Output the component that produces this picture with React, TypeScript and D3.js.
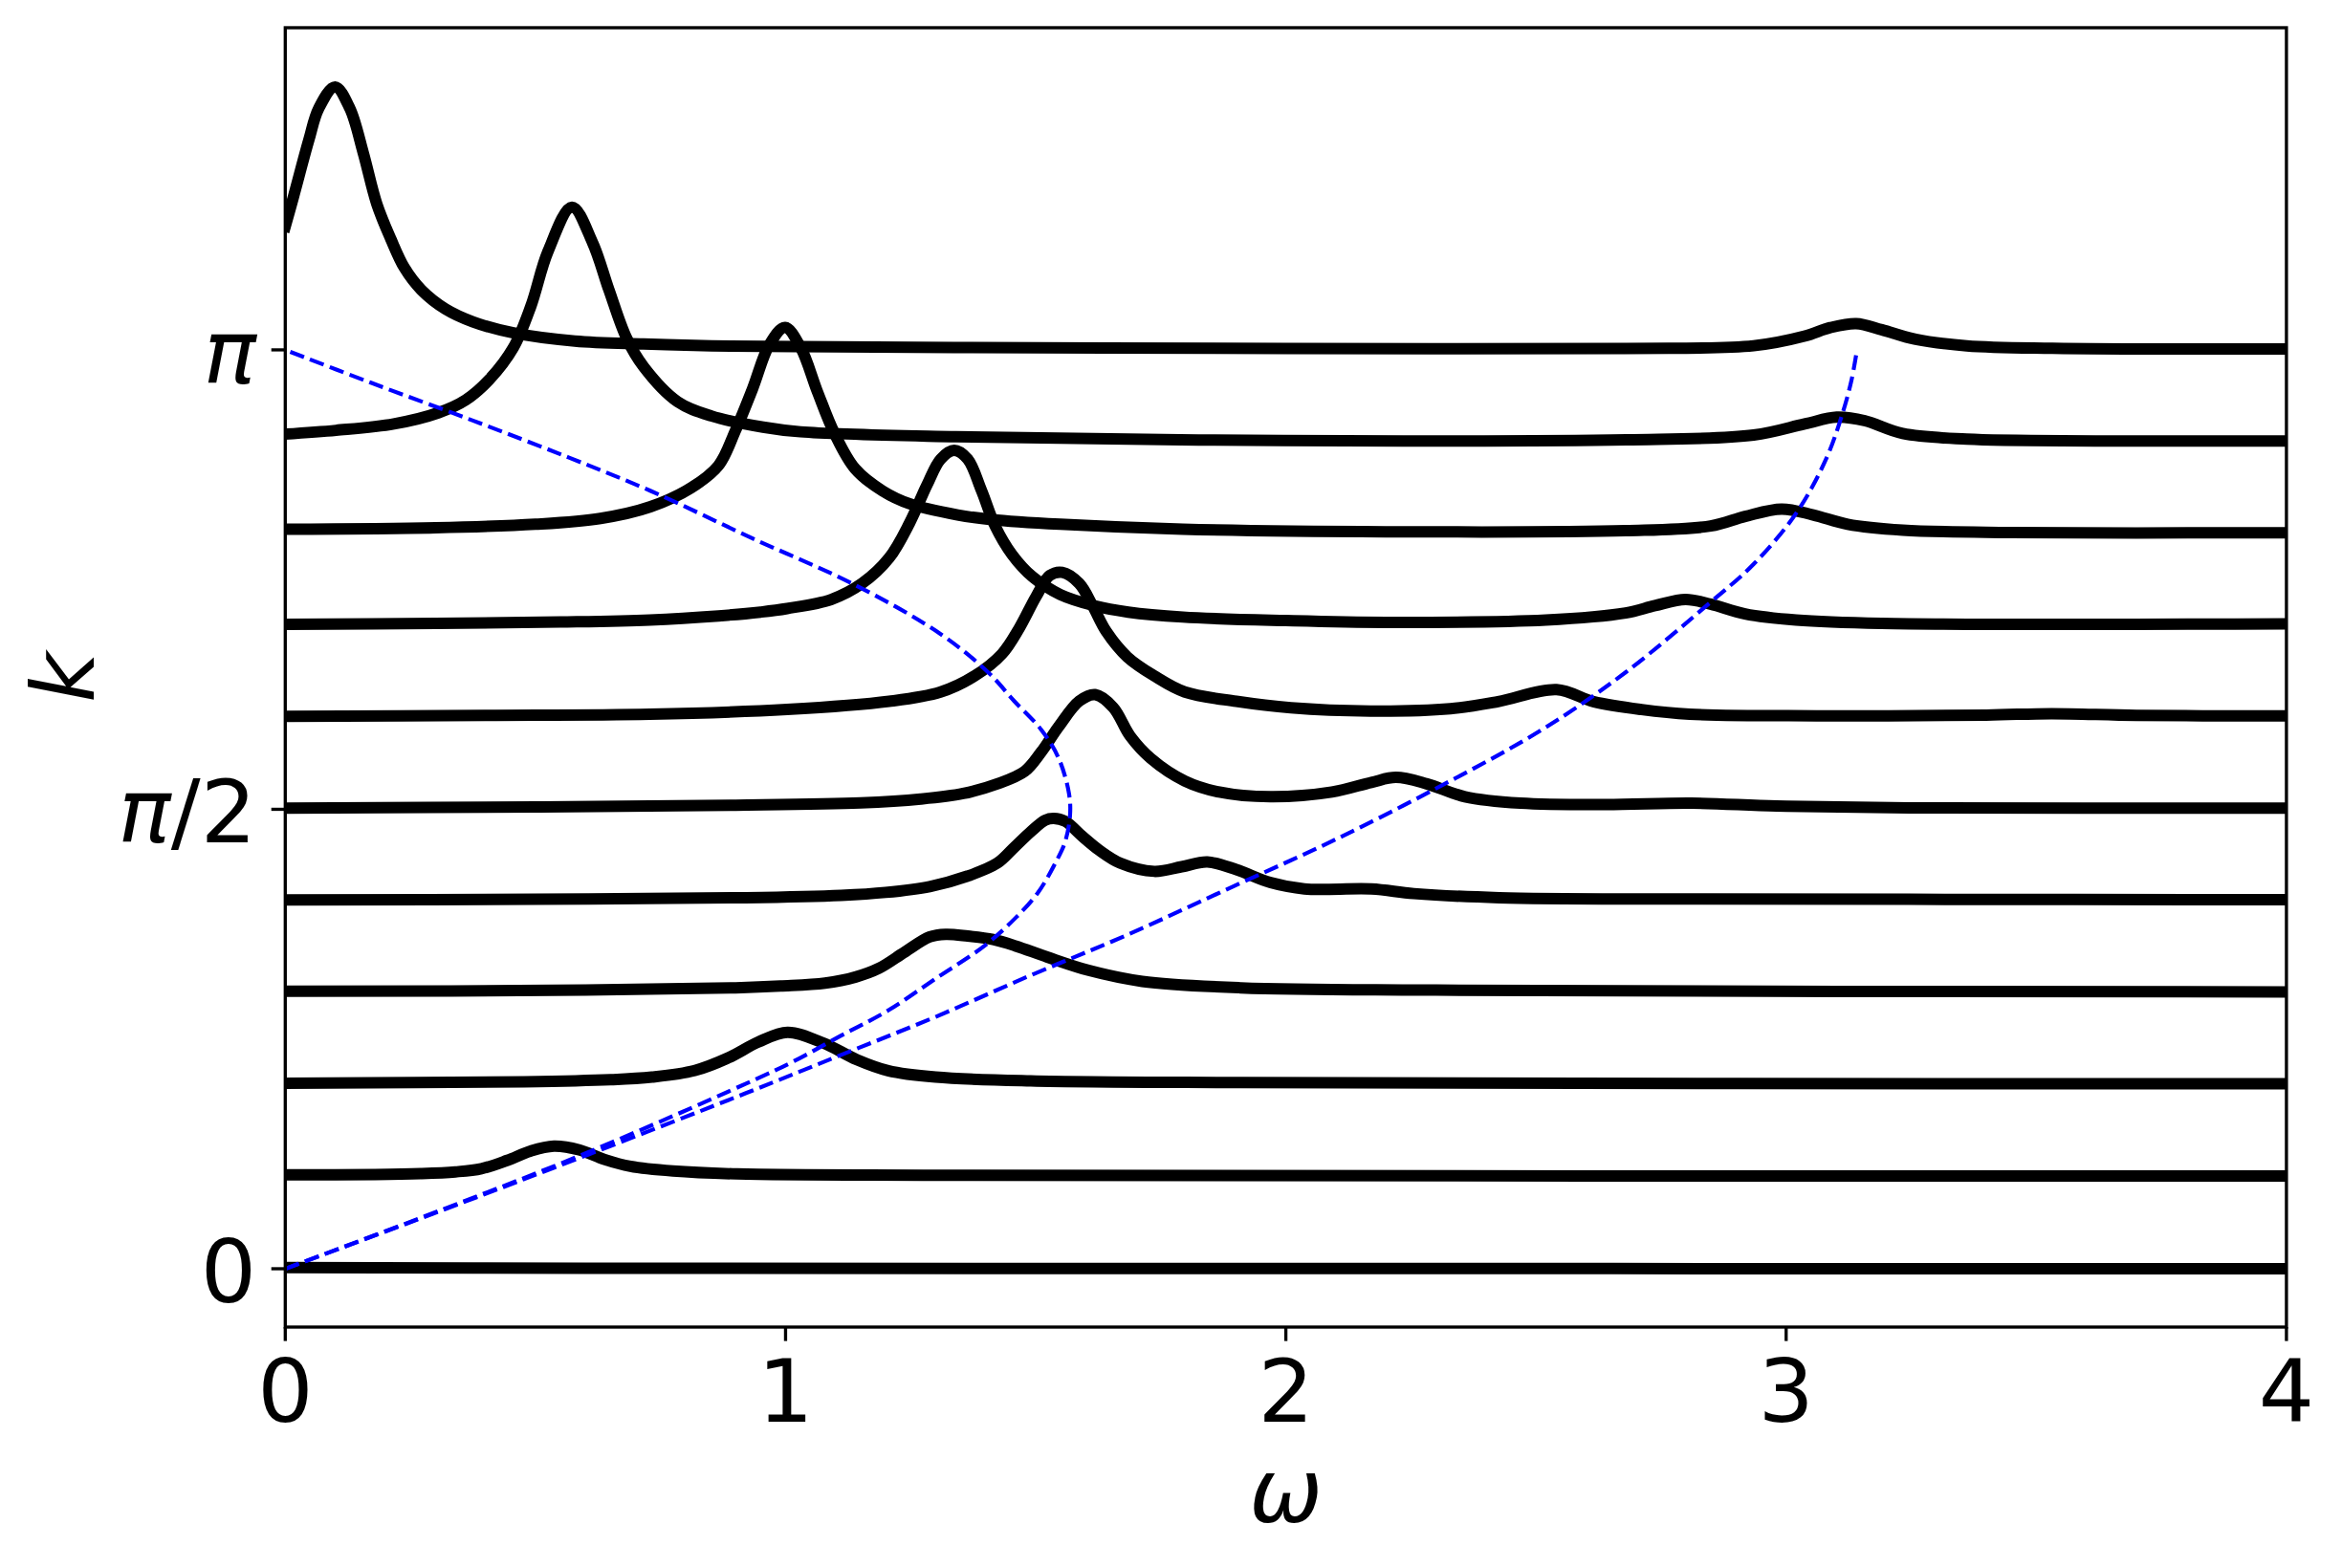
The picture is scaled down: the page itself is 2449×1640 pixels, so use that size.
import React from 'react';
import * as d3 from 'd3';

// spectral function A(k, w), one trace per momentum, stacked at their k value

const width = 2449;
const height = 1640;
const plot = { left: 298.3, right: 2390.9, top: 29, bottom: 1388 };

const omegaTicks = [0, 1, 2, 3, 4];
const kTickValues = [0, Math.PI / 2, Math.PI];
const kTickLabels = ['0', 'π/2', 'π'];

// momenta in units of pi
const kFractions = [0, 0.1, 0.2, 0.3, 0.4, 0.5, 0.6, 0.7, 0.8, 0.9, 1.0];

// each trace: [omega, height above its own k baseline]
const specK0 = [[0, 0.004], [0.6, 0.002], [1.5, 0.001], [4, 0]];
const specK1 = [[0, 0.007], [0.18, 0.008], [0.27, 0.011], [0.34, 0.017], [0.392, 0.028], [0.443, 0.056], [0.49, 0.088], [0.537, 0.105], [0.588, 0.092], [0.639, 0.059], [0.69, 0.036], [0.775, 0.02], [0.903, 0.01], [1.303, 0.0055], [4, 0.003]];
const specK2 = [[0, 0.006], [0.477, 0.011], [0.65, 0.018], [0.733, 0.027], [0.818, 0.049], [0.886, 0.093], [0.946, 0.147], [1.004, 0.18], [1.076, 0.143], [1.142, 0.087], [1.205, 0.049], [1.30, 0.027], [1.49, 0.014], [1.91, 0.008], [4, 0.004]];
const specK3 = [[0, 0.006], [0.6, 0.01], [0.9, 0.018], [0.99, 0.024], [1.079, 0.034], [1.14, 0.055], [1.187, 0.085], [1.238, 0.14], [1.288, 0.192], [1.32, 0.201], [1.364, 0.195], [1.415, 0.183], [1.46, 0.161], [1.523, 0.123], [1.605, 0.078], [1.713, 0.04], [1.91, 0.018], [2.3, 0.01], [4, 0.004]];
const specK4 = [[0, 0.004], [0.5, 0.007], [0.92, 0.012], [1.111, 0.02], [1.2, 0.03], [1.288, 0.05], [1.364, 0.086], [1.423, 0.13], [1.457, 0.184], [1.491, 0.239], [1.519, 0.277], [1.536, 0.283], [1.559, 0.273], [1.593, 0.222], [1.628, 0.173], [1.669, 0.13], [1.737, 0.102], [1.792, 0.118], [1.843, 0.134], [1.901, 0.108], [1.969, 0.064], [2.037, 0.042], [2.171, 0.042], [2.256, 0.026], [2.427, 0.012], [2.767, 0.0075], [3.245, 0.0065], [4, 0.005]];
const specK5 = [[0, 0.004], [0.5, 0.008], [0.9, 0.014], [1.15, 0.022], [1.27, 0.035], [1.355, 0.054], [1.423, 0.087], [1.478, 0.13], [1.511, 0.196], [1.546, 0.283], [1.587, 0.37], [1.619, 0.392], [1.655, 0.348], [1.689, 0.25], [1.73, 0.174], [1.798, 0.097], [1.867, 0.059], [1.969, 0.043], [2.092, 0.059], [2.171, 0.092], [2.22, 0.109], [2.282, 0.087], [2.358, 0.043], [2.469, 0.021], [2.64, 0.016], [2.811, 0.021], [2.981, 0.011], [3.245, 0.005], [4, 0.004]];
const specK6 = [[0, 0.004], [0.4, 0.007], [0.729, 0.011], [1.003, 0.027], [1.207, 0.055], [1.31, 0.087], [1.378, 0.142], [1.433, 0.218], [1.467, 0.305], [1.501, 0.414], [1.528, 0.485], [1.553, 0.496], [1.587, 0.458], [1.614, 0.381], [1.641, 0.294], [1.683, 0.207], [1.737, 0.142], [1.798, 0.087], [1.901, 0.055], [2.01, 0.033], [2.169, 0.022], [2.329, 0.03], [2.424, 0.054], [2.541, 0.095], [2.615, 0.054], [2.711, 0.027], [2.807, 0.011], [3.061, 0.0055], [3.4, 0.008], [3.53, 0.013], [3.7, 0.007], [4, 0.005]];
const specK7 = [[0, 0.004], [0.3, 0.007], [0.55, 0.012], [0.729, 0.019], [0.866, 0.033], [0.95, 0.046], [1.003, 0.058], [1.091, 0.089], [1.153, 0.144], [1.207, 0.231], [1.248, 0.351], [1.283, 0.482], [1.31, 0.569], [1.337, 0.599], [1.364, 0.569], [1.392, 0.46], [1.419, 0.34], [1.453, 0.242], [1.494, 0.166], [1.549, 0.106], [1.617, 0.068], [1.685, 0.046], [1.794, 0.029], [2.0, 0.017], [2.201, 0.011], [2.52, 0.019], [2.679, 0.043], [2.738, 0.068], [2.799, 0.089], [2.849, 0.073], [2.918, 0.04], [3.02, 0.019], [3.191, 0.0075], [4, 0.006]];
const specK8 = [[0, 0.015], [0.3, 0.02], [0.5, 0.032], [0.63, 0.052], [0.73, 0.092], [0.8115, 0.157], [0.866, 0.233], [0.9, 0.353], [0.934, 0.495], [0.968, 0.647], [0.999, 0.705], [1.03, 0.637], [1.064, 0.484], [1.098, 0.342], [1.139, 0.222], [1.194, 0.146], [1.248, 0.102], [1.344, 0.064], [1.412, 0.048], [1.549, 0.032], [1.794, 0.015], [2.2, 0.0065], [2.679, 0.01], [2.849, 0.026], [2.918, 0.059], [2.991, 0.084], [3.054, 0.064], [3.123, 0.032], [3.233, 0.012], [3.447, 0.004], [4, 0.003]];
const specK9 = [[0, 0.026], [0.1015, 0.039], [0.217, 0.061], [0.306, 0.099], [0.361, 0.143], [0.408, 0.213], [0.456, 0.322], [0.491, 0.464], [0.525, 0.65], [0.573, 0.802], [0.614, 0.682], [0.647, 0.519], [0.682, 0.355], [0.716, 0.257], [0.784, 0.137], [0.852, 0.088], [0.955, 0.05], [1.03, 0.034], [1.34, 0.017], [1.79, 0.0065], [2.68, 0.0065], [2.935, 0.023], [3.037, 0.061], [3.101, 0.084], [3.157, 0.072], [3.233, 0.028], [3.361, 0.009], [3.618, 0.003], [4, 0.003]];
const specK10 = [[0, 0.423], [0.016, 0.521], [0.047, 0.717], [0.067, 0.826], [0.0996, 0.899], [0.129, 0.826], [0.156, 0.673], [0.183, 0.499], [0.211, 0.379], [0.238, 0.281], [0.272, 0.205], [0.32, 0.14], [0.375, 0.096], [0.456, 0.058], [0.579, 0.03], [0.716, 0.02], [0.852, 0.014], [1.02, 0.011], [1.5, 0.007], [2.0, 0.005], [2.68, 0.005], [2.935, 0.014], [3.037, 0.047], [3.088, 0.076], [3.14, 0.09], [3.191, 0.069], [3.259, 0.036], [3.361, 0.014], [3.532, 0.0055], [4, 0.003]];

const spectra = [specK0, specK1, specK2, specK3, specK4, specK5, specK6, specK7, specK8, specK9, specK10];

// bare dispersion branches, [omega, k]
const branchLower = [[0, 0], [0.306, 0.197], [0.605, 0.398], [0.921, 0.633], [1.016, 0.709], [1.111, 0.797], [1.206, 0.884], [1.301, 0.993], [1.396, 1.102], [1.46, 1.2], [1.505, 1.287], [1.542, 1.396], [1.559, 1.461], [1.5686, 1.549], [1.5665, 1.625], [1.546, 1.745], [1.511, 1.843], [1.457, 1.941], [1.405, 2.039], [1.31, 2.17], [1.1386, 2.338], [0.934, 2.497], [0.7295, 2.66], [0.566, 2.774], [0.375, 2.9], [0.17, 3.03], [0, 3.1416]];
const branchUpper = [[0, 0], [0.306, 0.195], [0.605, 0.39], [0.921, 0.6005], [1.111, 0.731], [1.301, 0.862], [1.491, 1.004], [1.681, 1.14], [1.897, 1.309], [2.085, 1.456], [2.299, 1.641], [2.512, 1.843], [2.679, 2.039], [2.849, 2.279], [2.935, 2.409], [3.02, 2.583], [3.08, 2.769], [3.114, 2.932], [3.131, 3.041], [3.1416, 3.1416]];

const FONT = 'DejaVu Sans';
const FS = 91.7;

function TickLabel({ text }: { text: string }) {
  // pi in math italic, the rest upright
  const parts = text.split(/(π)/).filter((p) => p !== '');
  return (
    <>
      {parts.map((p, i) => (
        <tspan key={i} fontStyle={p === 'π' ? 'italic' : 'normal'}>{p}</tspan>
      ))}
    </>
  );
}

export default function App() {
  const x = d3.scaleLinear().domain([0, 4]).range([plot.left, plot.right]);
  const y = d3.scaleLinear().domain([-0.1994, 4.243]).range([plot.bottom, plot.top]);

  const traces = spectra.map((spec, i) => {
    const k0 = kFractions[i] * Math.PI;
    const line = d3.line<number[]>()
      .x((d) => x(d[0]))
      .y((d) => y(k0 + d[1]))
      .curve(d3.curveCatmullRom.alpha(0.5));
    return line(spec) || '';
  });

  const branch = d3.line<number[]>()
    .x((d) => x(d[0]))
    .y((d) => y(d[1]))
    .curve(d3.curveCatmullRom.alpha(0.5));

  const tickLen = 14.6;
  const spineW = 3.33;

  return (
    <div>
      <style>{'body{margin:0}'}</style>
      <svg width={width} height={height} style={{ display: 'block', background: '#fff' }}
        fontFamily={FONT}>
        <defs>
          <clipPath id='plotClip'>
            <rect x={plot.left} y={plot.top} width={plot.right - plot.left} height={plot.bottom - plot.top} />
          </clipPath>
        </defs>

        <g clipPath='url(#plotClip)'>
          {traces.map((d, i) => (
            <path key={i} d={d} fill='none' stroke='#000' strokeWidth={12} strokeLinejoin='round' strokeLinecap='square' />
          ))}
          <path d={branch(branchLower) || ''} fill='none' stroke='#0000ff' strokeWidth={4.17} strokeDasharray='15.4 6.7' />
          <path d={branch(branchUpper) || ''} fill='none' stroke='#0000ff' strokeWidth={4.17} strokeDasharray='15.4 6.7' />
        </g>

        {/* frame */}
        <rect x={plot.left} y={plot.top} width={plot.right - plot.left} height={plot.bottom - plot.top}
          fill='none' stroke='#000' strokeWidth={spineW} />

        {/* x axis */}
        {omegaTicks.map((t) => (
          <g key={'x' + t}>
            <line x1={x(t)} x2={x(t)} y1={plot.bottom} y2={plot.bottom + tickLen} stroke='#000' strokeWidth={spineW} />
            <text x={x(t)} y={1487} textAnchor='middle' fontSize={FS}>{t}</text>
          </g>
        ))}

        {/* y axis */}
        {kTickValues.map((t, i) => (
          <g key={'y' + i}>
            <line x1={plot.left - tickLen} x2={plot.left} y1={y(t)} y2={y(t)} stroke='#000' strokeWidth={spineW} />
            <text x={268} y={y(t) + 35} textAnchor='end' fontSize={FS}>
              <TickLabel text={kTickLabels[i]} />
            </text>
          </g>
        ))}

        <text x={(plot.left + plot.right) / 2} y={1592} textAnchor='middle' fontSize={FS} fontStyle='italic'>ω</text>
        <text transform={`translate(98, ${(plot.top + plot.bottom) / 2}) rotate(-90)`} textAnchor='middle'
          fontSize={FS} fontStyle='italic'>k</text>
      </svg>
    </div>
  );
}
